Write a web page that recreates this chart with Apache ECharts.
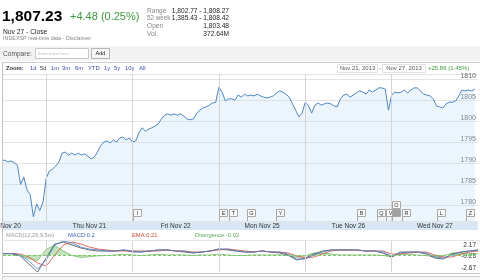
<!DOCTYPE html>
<html><head><meta charset="utf-8">
<script src="https://cdn.jsdelivr.net/npm/echarts@6/dist/echarts.min.js"></script>
<style>html,body{margin:0;padding:0;background:#fff;}#c{width:480px;height:280px;}</style>
</head><body><div id="c"></div>
<script>
// ---------- data ----------
const dayLabels = ['Wed Nov 20','Thu Nov 21','Fri Nov 22','Mon Nov 25','Tue Nov 26','Wed Nov 27'];
const dayBoundaries = [1, 2, 3, 4, 5];
const slotsPerDay = 27;            // 15-minute slots, 9:30 .. 16:00
const nov20Start = 13;             // first slot shown for Nov 20
const nov20 = [1790.6,1790.8,1790.4,1790.6,1790.2,1789.6,1785.0,1786.8,1783.7,1782.6,1777.3,1780.4,1778.8,1780.8];
const nov21 = [1786.5,1788.2,1788.7,1789.4,1790.4,1792.5,1792.7,1792.0,1792.5,1792.0,1792.5,1792.0,1792.3,1791.8,1791.1,1791.5,1792.7,1794.2,1795.1,1795.4,1794.9,1795.6,1795.1,1796.1,1796.3,1795.6,1796.1];
const nov22 = [1795.1,1795.4,1797.3,1798.5,1797.7,1798.2,1798.5,1798.9,1799.4,1800.6,1801.5,1801.8,1801.5,1801.8,1801.5,1801.8,1801.3,1800.6,1800.4,1800.6,1801.8,1802.7,1803.2,1803.5,1803.9,1804.4,1804.6];
const nov25 = [1808.2,1807.0,1804.9,1805.4,1805.4,1805.1,1806.3,1805.8,1806.5,1806.1,1806.3,1806.1,1806.5,1806.1,1805.8,1805.6,1805.8,1806.1,1806.8,1807.3,1807.0,1806.5,1805.8,1804.2,1802.7,1801.1,1802.0];
const nov26 = [1804.6,1803.7,1802.0,1803.9,1804.4,1803.9,1804.2,1804.4,1804.2,1803.7,1803.5,1805.4,1806.3,1806.5,1805.8,1806.3,1806.8,1807.3,1807.0,1806.5,1807.5,1807.0,1807.5,1808.0,1808.0,1807.7,1802.7];
const nov27 = [1806.3,1807.0,1806.8,1807.0,1807.5,1806.8,1807.5,1808.0,1808.0,1807.3,1806.5,1806.3,1806.1,1805.4,1803.7,1803.5,1803.2,1804.2,1804.6,1804.6,1804.9,1806.1,1807.5,1807.3,1807.5,1807.3,1807.7];

// MACD panel, sampled every 0.1 trading day from the left edge
const macdStep = 0.1;
const macdBlue = [0.22,0.22,-0.02,-0.95,-2.20,-0.80,1.55,2.17,1.86,1.23,0.92,0.77,0.61,0.61,0.77,0.61,0.45,0.61,0.77,0.77,0.61,0.61,0.30,0.45,0.61,0.92,0.92,0.61,0.45,0.45,0.61,0.45,0.45,0.14,-0.64,-0.64,-0.02,0.45,0.77,0.77,0.77,0.77,0.61,0.61,0.45,-0.17,0.30,0.45,0.45,0.30,-0.33,-0.48,-0.02,0.45,0.61,0.77];
const emaRed = [0.22,0.22,0.14,-0.33,-1.26,-1.73,-0.02,1.55,2.01,1.70,1.23,0.92,0.77,0.61,0.61,0.61,0.61,0.61,0.61,0.77,0.61,0.61,0.45,0.45,0.61,0.77,0.92,0.77,0.61,0.45,0.61,0.45,0.45,0.30,-0.17,-0.48,-0.33,0.14,0.61,0.77,0.77,0.77,0.61,0.61,0.61,0.14,0.14,0.30,0.45,0.45,-0.02,-0.33,-0.33,0.14,0.45,0.61];
const macdDark = [0.22,0.22,-0.17,-1.42,-2.67,-0.48,1.70,2.01,1.55,1.08,0.77,0.61,0.61,0.61,0.77,0.45,0.45,0.61,0.77,0.77,0.61,0.45,0.30,0.45,0.61,0.92,0.77,0.61,0.45,0.45,0.61,0.45,0.30,-0.02,-0.80,-0.48,0.14,0.61,0.77,0.77,0.77,0.77,0.61,0.61,0.30,-0.33,0.45,0.45,0.45,0.14,-0.48,-0.64,0.14,0.45,0.61,0.77];
const divergence = [0,0,-0.1,-0.6,-0.9,0.9,1.5,0.6,-0.1,-0.4,-0.3,-0.15,-0.1,0,0.1,0,-0.1,0,0.1,0,0,0,-0.1,0,0,0.1,0,-0.1,-0.1,0,0,0,0,-0.1,-0.4,-0.15,0.3,0.3,0.15,0,0,0,0,0,-0.1,-0.3,0.15,0.1,0,-0.1,-0.3,-0.15,0.3,0.3,0.15,0.15];
const macdTicks = [-2.67, -0.25, 2.17];

// news flags (time in trading days, stacking level)
const flagTimes = [2.005,3.006,3.116,3.324,3.660,4.597,4.829,4.933,5.002,5.002,5.118,5.523,5.859];
const flagLetters = ['I','E','T','G','Y','B','Q','V','','O','R','L','Z'];
const flagLevels = [0,0,0,0,0,0,0,0,0,1,0,0,0];

// ---------- build ----------
const X_MIN = 0.5, X_MAX = 6;
const Y_MIN = 1776.31, Y_MAX = 1811.31;
const FONT = "'Liberation Sans', Arial, Helvetica, sans-serif";

const dayArrays = [[0, nov20Start, nov20],[1,0,nov21],[2,0,nov22],[3,0,nov25],[4,0,nov26],[5,0,nov27]];
const priceData = [];
dayArrays.forEach(([d, s, arr]) => arr.forEach((v, i) => priceData.push([d + (s + i) / slotsPerDay, v])));
const mk = arr => arr.map((v, k) => [X_MIN + k * macdStep, v]);

function txt(text, x, y, size, color, extra) {
  return {type:'text', x:x, y:y, z:50, silent:true,
    style:Object.assign({text:text, fill:color, fontSize:size, fontFamily:FONT, verticalAlign:'middle', align:'left'}, extra||{})};
}
function line(x1,y1,x2,y2,color,z){ return {type:'line', z:z||40, silent:true, shape:{x1,y1,x2,y2}, style:{stroke:color, lineWidth:1}}; }
function rect(x,y,w,h,fill,stroke,z){ return {type:'rect', z:z||30, silent:true, shape:{x,y,width:w,height:h}, style:{fill:fill, stroke:stroke||null, lineWidth:1}}; }

const graphics = [
  txt('1,807.23', 2, 16.6, 15.5, '#000', {fontWeight:'bold'}),
  txt('+4.48 (0.25%)', 70, 16.6, 11, '#3c9a3c'),
  txt('Nov 27 - Close', 3, 32, 6.7, '#222'),
  txt('INDEXSP real-time data - Disclaimer', 3, 38.8, 5.4, '#888'),
  txt('Range', 147, 10.8, 6.6, '#888'),
  txt('52 week', 147, 18.6, 6.3, '#888'),
  txt('Open', 147, 26.4, 6.6, '#888'),
  txt('Vol.', 147, 34.2, 6.6, '#888'),
  txt('1,802.77 - 1,808.27', 229, 10.8, 6.6, '#222', {align:'right'}),
  txt('1,385.43 - 1,808.42', 229, 18.6, 6.6, '#222', {align:'right'}),
  txt('1,803.48', 229, 26.4, 6.6, '#222', {align:'right'}),
  txt('372.64M', 229, 34.2, 6.6, '#222', {align:'right'}),
  rect(0, 46.5, 480, 14, '#f2f2f2', null, 10),
  txt('Compare:', 3, 53.8, 6.6, '#555'),
  rect(35.5, 48.5, 53, 10, '#fff', '#c8c8c8', 20),
  txt('Enter ticker here', 38, 53.6, 4.2, '#bbb'),
  rect(91.5, 48.5, 18, 10, '#f7f7f7', '#b5b5b5', 20),
  txt('Add', 100.5, 53.6, 5.6, '#222', {align:'center'}),
  line(2, 62.5, 480, 62.5, '#cfcfcf'),
  line(2.5, 62, 2.5, 274, '#c4c4c4'),
  txt('Zoom:', 6, 68.3, 5.8, '#333', {fontWeight:'bold'}),
  rect(337.5, 64.5, 40, 8, '#fff', '#e2e2e2', 20),
  rect(382.5, 64.5, 43, 8, '#fff', '#e2e2e2', 20),
  txt('Nov 21, 2013', 357.5, 68.4, 6, '#555', {align:'center'}),
  txt('-', 380, 68.4, 6, '#555', {align:'center'}),
  txt('Nov 27, 2013', 404, 68.4, 6, '#555', {align:'center'}),
  txt('+25.86 (1.45%)', 428, 68.4, 6, '#3c9a3c'),
  rect(3, 221, 475, 9, '#d9e6f4', null, -1),
  txt('MACD(12,26,9,5m)', 6, 235, 5.6, '#9a9a9a'),
  txt('MACD:0.2', 68, 235, 5.8, '#3d66bb'),
  txt('EMA:0.21', 132, 235, 5.8, '#cc4a3a'),
  txt('Divergence:-0.02', 195, 235, 5.8, '#5aa85a'),
  line(2, 240.5, 480, 240.5, '#e4e4e4'),
  line(2, 273.5, 480, 273.5, '#c4c4c4'),
  rect(2.5, 276.5, 478, 8, '#f6f6f6', '#cfcfcf', 20)
];
const zoomLinks = [['1d',30],['5d',40],['1m',51],['3m',62],['6m',75],['YTD',88],['1y',104],['5y',114],['10y',125],['All',139]];
zoomLinks.forEach(([t, x]) => graphics.push(txt(t, x, 68.3, 5.8, t === '5d' ? '#333' : '#3b48a8')));

const dayMarkLine = {
  silent:true, symbol:'none', label:{show:false},
  lineStyle:{color:'#d4d4d4', type:'solid', width:1},
  data: dayBoundaries.map(b => ({xAxis:b}))
};

function renderFlag(params, api) {
  const t = api.value(0), lvl = api.value(1);
  const letter = flagLetters[params.dataIndex];
  const p = api.coord([t, Y_MIN]);
  const x = Math.round(p[0]) + 0.5;
  const bottom = p[1];
  const bw = 8, bh = 7;
  const boxTop = Math.round(bottom - 5.5 - bh - lvl * 7.5) + 0.5;
  return {type:'group', children:[
    {type:'line', shape:{x1:x, y1:boxTop + bh, x2:x, y2:bottom}, style:{stroke:'#a8a8a8', lineWidth:1}},
    {type:'rect', shape:{x:x, y:boxTop, width:bw, height:bh}, style:{fill: letter === '' ? '#a0a0a0' : '#fafafa', stroke:'#a8a8a8', lineWidth:1}},
    {type:'text', style:{x:x + bw / 2, y:boxTop + bh / 2 + 0.5, text:letter, fill:'#333', fontSize:5.5, fontFamily:FONT, align:'center', verticalAlign:'middle'}}
  ]};
}

const chart = echarts.init(document.getElementById('c'), null, {renderer:'canvas'});
chart.setOption({
  animation:false,
  textStyle:{fontFamily:FONT},
  graphic:{elements:graphics},
  grid:[
    {left:3, right:2, top:74, height:147, containLabel:false, outerBoundsMode:'none'},
    {left:3, right:2, top:241, height:31, containLabel:false, outerBoundsMode:'none'}
  ],
  xAxis:[
    {type:'value', gridIndex:0, min:X_MIN, max:X_MAX, interval:0.5,
      axisLine:{show:false}, axisTick:{show:false}, splitLine:{show:false},
      axisLabel:{margin:1.5, fontSize:6.5, color:'#333', showMaxLabel:false,
        formatter: v => Math.abs(v - Math.floor(v) - 0.5) < 1e-6 ? dayLabels[Math.floor(v)] : ''}},
    {type:'value', gridIndex:1, min:X_MIN, max:X_MAX, show:false}
  ],
  yAxis:[
    {type:'value', gridIndex:0, min:Y_MIN, max:Y_MAX, splitNumber:7, position:'right',
      axisLine:{show:false}, axisTick:{show:false},
      splitLine:{lineStyle:{color:'#e3e3e3'}},
      axisLabel:{inside:true, margin:2, fontSize:7, color:'#666', verticalAlign:'bottom',
        formatter: v => { const r = Math.round(v); return (Math.abs(v - r) < 1e-6 && r % 5 === 0) ? String(r) : ''; }}},
    {type:'value', gridIndex:1, min:macdTicks[0], max:macdTicks[2], interval:macdTicks[1] - macdTicks[0], position:'right',
      axisLine:{show:false}, axisTick:{show:false}, splitLine:{show:false},
      axisLabel:{inside:true, margin:2, fontSize:6.5, color:'#333',
        formatter: v => { const s = v.toFixed(2); if (v > 2) return '{t|' + s + '}'; if (v < -2) return '{b|' + s + '}'; return s; },
        rich:{t:{padding:[8,0,0,0], fontSize:6.5, color:'#333'}, b:{padding:[0,0,8,0], fontSize:6.5, color:'#333'}}}}
  ],
  series:[
    {type:'line', name:'INDEXSP', xAxisIndex:0, yAxisIndex:0, data:priceData, showSymbol:false,
      lineStyle:{color:'#4f85c0', width:1}, areaStyle:{color:'rgba(196,222,246,0.45)', origin:'start'},
      markLine:dayMarkLine, z:3},
    {type:'custom', xAxisIndex:0, yAxisIndex:0, renderItem:renderFlag, silent:true, z:5,
      data: flagTimes.map((t, i) => [t, flagLevels[i]])},
    {type:'line', name:'Divergence', xAxisIndex:1, yAxisIndex:1, data:mk(divergence), showSymbol:false,
      lineStyle:{color:'#7cbf6c', width:0.8}, areaStyle:{color:'rgba(110,190,90,0.6)'},
      markLine:{silent:true, symbol:'none', label:{show:false}, lineStyle:{color:'#7cc46c', type:[3,2], width:1}, data:[{yAxis:0}]}},
    {type:'line', name:'dark', xAxisIndex:1, yAxisIndex:1, data:mk(macdDark), showSymbol:false,
      lineStyle:{color:'#444', width:0.8}, markLine:dayMarkLine},
    {type:'line', name:'EMA', xAxisIndex:1, yAxisIndex:1, data:mk(emaRed), showSymbol:false,
      lineStyle:{color:'#d24a3c', width:0.8}},
    {type:'line', name:'MACD', xAxisIndex:1, yAxisIndex:1, data:mk(macdBlue), showSymbol:false,
      lineStyle:{color:'#4a7fd4', width:0.8}}
  ]
});
</script>
</body></html>
